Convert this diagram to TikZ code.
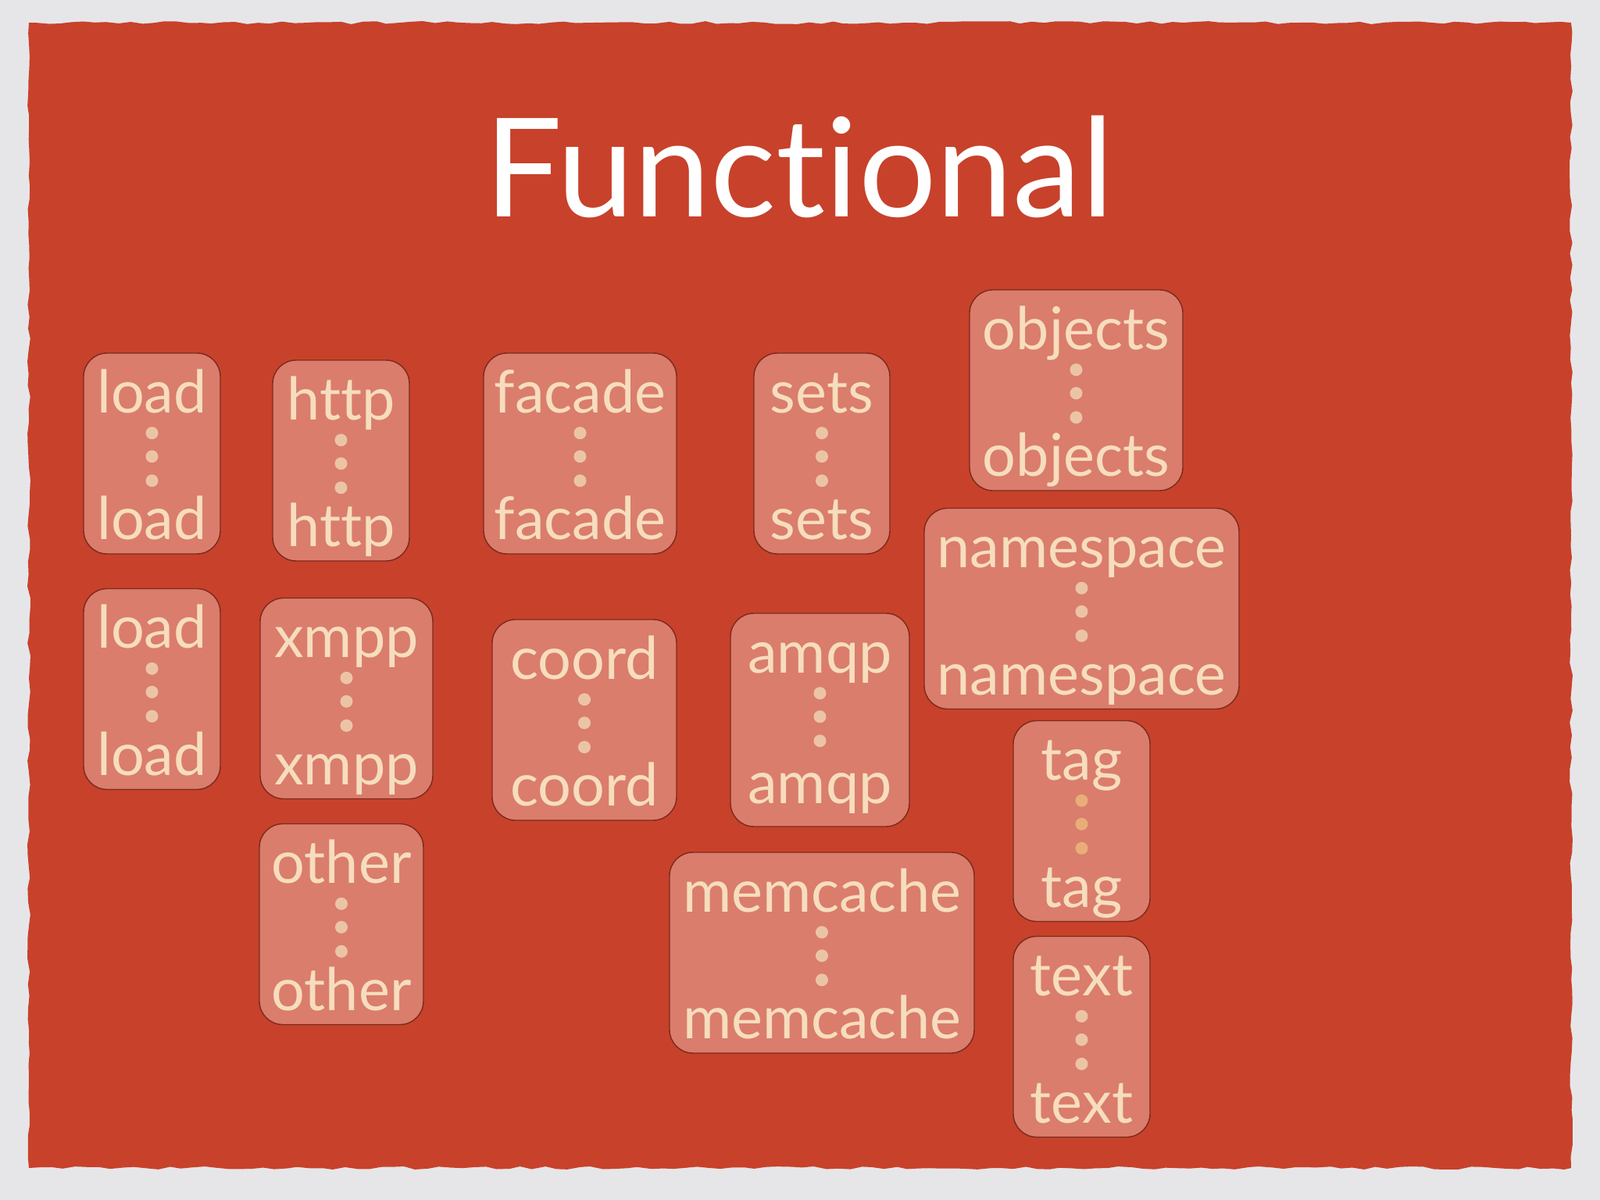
\documentclass[tikz,border=0pt]{standalone}
\usepackage{fontspec}
\setmainfont{Lato}[Ligatures=NoCommon]
\usetikzlibrary{decorations.pathmorphing}

\definecolor{paper}{HTML}{E6E6E8}
\definecolor{slate}{HTML}{C8412B}
\definecolor{cellfill}{HTML}{DA7D6C}
\definecolor{celledge}{HTML}{7A2A1C}
\definecolor{cream}{HTML}{F6DDBD}
\definecolor{dotcream}{HTML}{EBC4A6}
\definecolor{dotorange}{HTML}{E9AE78}

\tikzset{
  cell/.style={rectangle, rounded corners=0.3cm, draw=celledge, line width=0.4pt,
    fill=cellfill, inner sep=0pt},
  word/.style={anchor=base, inner sep=0pt, text=cream, font=\fontsize{21.5}{25}\selectfont},
  dot/.style={fill=dotcream}
}

% one box: name, x, y, width, word  (optional height)
\def\botgap{0.19}
\newcommand{\cellpair}[6][2.57]{%
  \node[cell, minimum width=#5cm, minimum height=#1cm] (#2) at (#3,#4) {};
  \node[word] (#2-top) at ([yshift=-0.77cm]#2.north) {#6};
  \foreach \d in {1.03,1.33,1.64}
    \fill[dot] ([yshift=-\d cm]#2.north) circle (0.08);
  \node[word] (#2-bot) at ([yshift=\botgap cm]#2.south) {#6};
}

\begin{document}
\begin{tikzpicture}
    \useasboundingbox (0,0) rectangle (20.48,-15.36);
    \fill[paper] (0,0) rectangle (20.48,-15.36);
    \fill[slate, decorate, decoration={random steps, segment length=1.5mm, amplitude=0.2mm}]
        (0.37,-0.29) rectangle (20.11,-14.95);

    \node[anchor=base, text=white, font=\fontsize{50}{58}\selectfont] (title) at (10.23,-2.78) {Functional};

    % first column
    \cellpair{load1}{1.945}{-5.805}{1.75}{load}
    \cellpair{load2}{1.945}{-8.82}{1.75}{load}

    % second column
    \cellpair{http}{4.365}{-5.895}{1.75}{http}
    \cellpair{xmpp}{4.435}{-8.94}{2.21}{xmpp}
    \cellpair{other}{4.37}{-11.83}{2.10}{other}

    % third column
    \cellpair{facade}{7.425}{-5.805}{2.47}{facade}
    \cellpair{coord}{7.48}{-9.215}{2.36}{coord}

    % fourth column
    \cellpair{sets}{10.52}{-5.805}{1.74}{sets}
    \begin{scope}
        \def\botgap{0.30}
        \cellpair[2.73]{amqp}{10.495}{-9.215}{2.29}{amqp}
    \end{scope}
    \cellpair{memcache}{10.52}{-12.195}{3.90}{memcache}

    % fifth column
    \cellpair{objects}{13.775}{-4.995}{2.73}{objects}
    \cellpair{namespace}{13.845}{-7.79}{4.03}{namespace}
    \begin{scope}[dot/.append style={fill=dotorange}]
        \cellpair{tag}{13.845}{-10.51}{1.75}{tag}
    \end{scope}
    \cellpair{text}{13.845}{-13.27}{1.75}{text}
\end{tikzpicture}
\end{document}
